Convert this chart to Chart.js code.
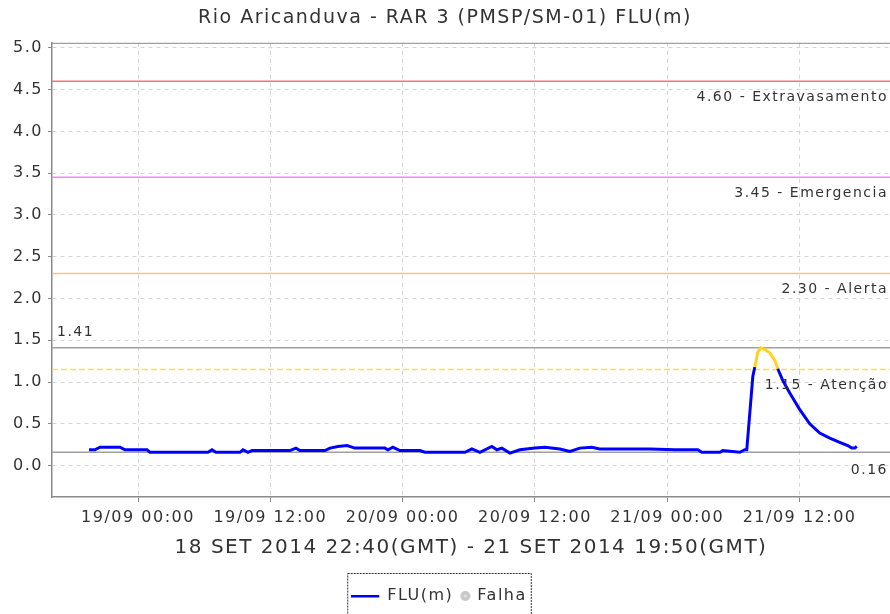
<!DOCTYPE html>
<html>
<head>
<meta charset="utf-8">
<script src="https://cdn.jsdelivr.net/npm/chart.js@4"></script>
<style>
  html, body { margin: 0; padding: 0; background: #fff; }
  #wrap { width: 890px; height: 614px; }
</style>
</head>
<body>
<div id="wrap"><canvas id="FLU" width="890" height="614"></canvas></div>
<script>
// hours counted from 19/09 00:00
var hours = [-4.44, -3.90, -3.45, -2.54, -1.63, -1.18, -0.27, 0.82, 1.09, 2.90, 4.71, 6.35, 6.71, 7.07, 8.34, 9.25, 9.52, 9.97, 10.34, 11.97,
  13.78, 14.32, 14.69, 16.95, 17.41, 18.13, 18.95, 19.67, 21.03, 22.39, 22.67, 23.12, 23.75, 25.57, 26.02, 27.83, 29.65, 30.28, 31.01, 32.09,
  32.55, 33.00, 33.73, 34.63, 35.99, 36.90, 38.26, 39.17, 40.07, 41.16, 41.88, 44.15, 46.42, 48.68, 50.77, 51.13, 52.77, 53.04, 54.58, 55.03,
  55.21, 55.76, 55.94, 56.21, 56.48, 56.85, 57.30, 57.75, 58.02, 58.47, 59.11, 60.02, 60.92, 61.83, 62.74, 63.64, 64.37, 64.73, 65.01, 65.19];
var levels = [0.19, 0.19, 0.22, 0.22, 0.22, 0.19, 0.19, 0.19, 0.16, 0.16, 0.16, 0.16, 0.19, 0.16, 0.16, 0.16, 0.19, 0.16, 0.18, 0.18,
  0.18, 0.21, 0.18, 0.18, 0.21, 0.23, 0.24, 0.21, 0.21, 0.21, 0.19, 0.22, 0.18, 0.18, 0.16, 0.16, 0.16, 0.20, 0.16, 0.23,
  0.19, 0.21, 0.15, 0.19, 0.21, 0.22, 0.20, 0.17, 0.21, 0.22, 0.20, 0.20, 0.20, 0.19, 0.19, 0.16, 0.16, 0.18, 0.16, 0.19,
  0.19, 1.07, 1.18, 1.36, 1.41, 1.39, 1.35, 1.26, 1.16, 1.02, 0.87, 0.67, 0.50, 0.39, 0.33, 0.28, 0.24, 0.21, 0.21, 0.23];

var limitValues = [4.60, 3.45, 2.30, 1.15];
var limitNames = ['Extravasamento', 'Emergencia', 'Alerta', 'Atenção'];
var limitColors = ['#ff7070', '#ff80ff', '#ffc080', '#ffe040'];
var maxLevel = 1.41;
var lastLevel = 0.16;

var xTickHours = [0, 12, 24, 36, 48, 60];
var xTickLabels = ['19/09 00:00', '19/09 12:00', '20/09 00:00', '20/09 12:00', '21/09 00:00', '21/09 12:00'];
var yTicks = [0, 0.5, 1, 1.5, 2, 2.5, 3, 3.5, 4, 4.5, 5];
var xRange = [-7.8, 68.2];
var yRange = [-0.375, 5.06];

var FONT = 'DejaVu Sans';

function hline(v, color, dash) {
  return {
    data: [{x: xRange[0], y: v}, {x: xRange[1], y: v}],
    borderColor: color,
    borderWidth: 1.5,
    borderDash: dash || [],
    pointRadius: 0,
    fill: false
  };
}

// legend symbols
var lineIcon = document.createElement('canvas');
lineIcon.width = 40; lineIcon.height = 4;
var lc = lineIcon.getContext('2d');
lc.fillStyle = '#0000ff';
lc.fillRect(0, 1, 28, 2.5);

var dotIcon = document.createElement('canvas');
dotIcon.width = 24; dotIcon.height = 12;
var dc = dotIcon.getContext('2d');
dc.fillStyle = '#c8c8c8';
dc.beginPath(); dc.arc(16, 6, 5, 0, Math.PI * 2); dc.fill();
dc.fillStyle = '#e4e4e4';
dc.beginPath(); dc.arc(16, 6, 1.6, 0, Math.PI * 2); dc.fill();

var spacing = {
  id: 'spacing',
  beforeLayout: function(chart) { chart.ctx.letterSpacing = '1.5px'; },
  beforeDraw: function(chart) { chart.ctx.letterSpacing = '1.5px'; }
};

var decorations = {
  id: 'decorations',
  afterDatasetsDraw: function(chart) {
    var ctx = chart.ctx, a = chart.chartArea, y = chart.scales.y;
    ctx.save();
    ctx.strokeStyle = '#8a8a8a';
    ctx.lineWidth = 1;
    ctx.beginPath(); ctx.moveTo(a.left, a.top + 0.5); ctx.lineTo(a.right, a.top + 0.5); ctx.stroke();

    ctx.font = '14px "' + FONT + '"';
    ctx.fillStyle = '#333';
    ctx.textBaseline = 'middle';
    ctx.textAlign = 'right';
    limitValues.forEach(function(v, i) {
      ctx.fillText(v.toFixed(2) + ' - ' + limitNames[i], a.right - 2, y.getPixelForValue(v) + 16);
    });
    ctx.fillText(lastLevel.toFixed(2), a.right - 2, y.getPixelForValue(lastLevel) + 18);
    ctx.textAlign = 'left';
    ctx.fillText(maxLevel.toFixed(2), a.left + 5, y.getPixelForValue(maxLevel) - 15);
    ctx.restore();
  },
  afterDraw: function(chart) {
    var lg = chart.legend, boxes = lg.legendHitBoxes;
    if (!boxes || !boxes.length) return;
    var l = boxes[0].left - 16, r = boxes[boxes.length - 1].left + boxes[boxes.length - 1].width + 4;
    var ctx = chart.ctx;
    ctx.save();
    ctx.strokeStyle = '#333';
    ctx.lineWidth = 1;
    ctx.setLineDash([2, 1]);
    ctx.strokeRect(l + 0.5, 573.5, r - l, 60);
    ctx.restore();
  }
};

new Chart(document.getElementById('FLU').getContext('2d'), {
  type: 'line',
  data: {
    datasets: [
      {
        label: 'FLU(m)',
        data: hours.map(function(h, i) { return {x: h, y: levels[i]}; }),
        borderColor: '#0000ff',
        borderWidth: 3,
        pointRadius: 0,
        tension: 0,
        fill: false,
        segment: {
          borderColor: function(c) {
            return (c.p0.parsed.y > limitValues[3] || c.p1.parsed.y > limitValues[3]) &&
                   Math.min(c.p0.parsed.y, c.p1.parsed.y) > 1.1 ? '#ffd21e' : '#0000ff';
          }
        }
      },
      {label: 'Falha', data: [], borderColor: '#c8c8c8', backgroundColor: '#c8c8c8', pointRadius: 0},
      hline(maxLevel, '#a0a0a0'),
      hline(limitValues[3], limitColors[3], [6, 3]),
      hline(lastLevel, '#a0a0a0'),
      hline(limitValues[2], limitColors[2]),
      hline(limitValues[1], limitColors[1]),
      hline(limitValues[0], limitColors[0])
    ]
  },
  options: {
    responsive: false,
    animation: false,
    layout: {padding: {left: 0, right: 0, top: 0, bottom: 0}},
    scales: {
      x: {
        type: 'linear',
        min: xRange[0],
        max: xRange[1],
        afterBuildTicks: function(s) { s.ticks = xTickHours.map(function(v) { return {value: v}; }); },
        afterFit: function(s) { s.height = 91; },
        ticks: {
          color: '#333',
          font: {family: FONT, size: 16},
          padding: 6,
          maxRotation: 0,
          callback: function(v) { return xTickLabels[xTickHours.indexOf(v)]; }
        },
        grid: {color: '#d4d4d4', tickColor: '#8a8a8a', tickLength: 5},
        border: {color: '#8a8a8a', width: 1.5, dash: [4, 4]},
        title: {
          display: true,
          text: '18 SET 2014 22:40(GMT) - 21 SET 2014 19:50(GMT)',
          color: '#333',
          font: {family: FONT, size: 20},
          padding: {top: 4, bottom: 28}
        }
      },
      y: {
        min: yRange[0],
        max: yRange[1],
        afterBuildTicks: function(s) { s.ticks = yTicks.map(function(v) { return {value: v}; }); },
        afterFit: function(s) { s.width = 52; },
        ticks: {
          color: '#333',
          font: {family: FONT, size: 16},
          padding: 5,
          callback: function(v) { return v.toFixed(1); }
        },
        grid: {color: '#d4d4d4', tickColor: '#8a8a8a', tickLength: 4},
        border: {color: '#8a8a8a', width: 1.5, dash: [4, 4]}
      }
    },
    plugins: {
      title: {
        display: true,
        text: 'Rio Aricanduva - RAR 3 (PMSP/SM-01) FLU(m)',
        color: '#333',
        font: {family: FONT, size: 19, weight: 'normal'},
        padding: {top: 7, bottom: 13}
      },
      legend: {
        position: 'bottom',
        labels: {
          usePointStyle: true,
          boxWidth: 16,
          padding: 0,
          color: '#333',
          font: {family: FONT, size: 16},
          filter: function(item) { return item.datasetIndex < 2; },
          generateLabels: function(chart) {
            return [
              {text: 'FLU(m)', pointStyle: lineIcon, datasetIndex: 0, fontColor: '#333', lineWidth: 0, strokeStyle: 'rgba(0,0,0,0)', fillStyle: 'rgba(0,0,0,0)'},
              {text: 'Falha', pointStyle: dotIcon, datasetIndex: 1, fontColor: '#333', lineWidth: 0, strokeStyle: 'rgba(0,0,0,0)', fillStyle: 'rgba(0,0,0,0)'}
            ];
          }
        }
      },
      tooltip: {enabled: false}
    }
  },
  plugins: [spacing, decorations]
});
</script>
</body>
</html>
